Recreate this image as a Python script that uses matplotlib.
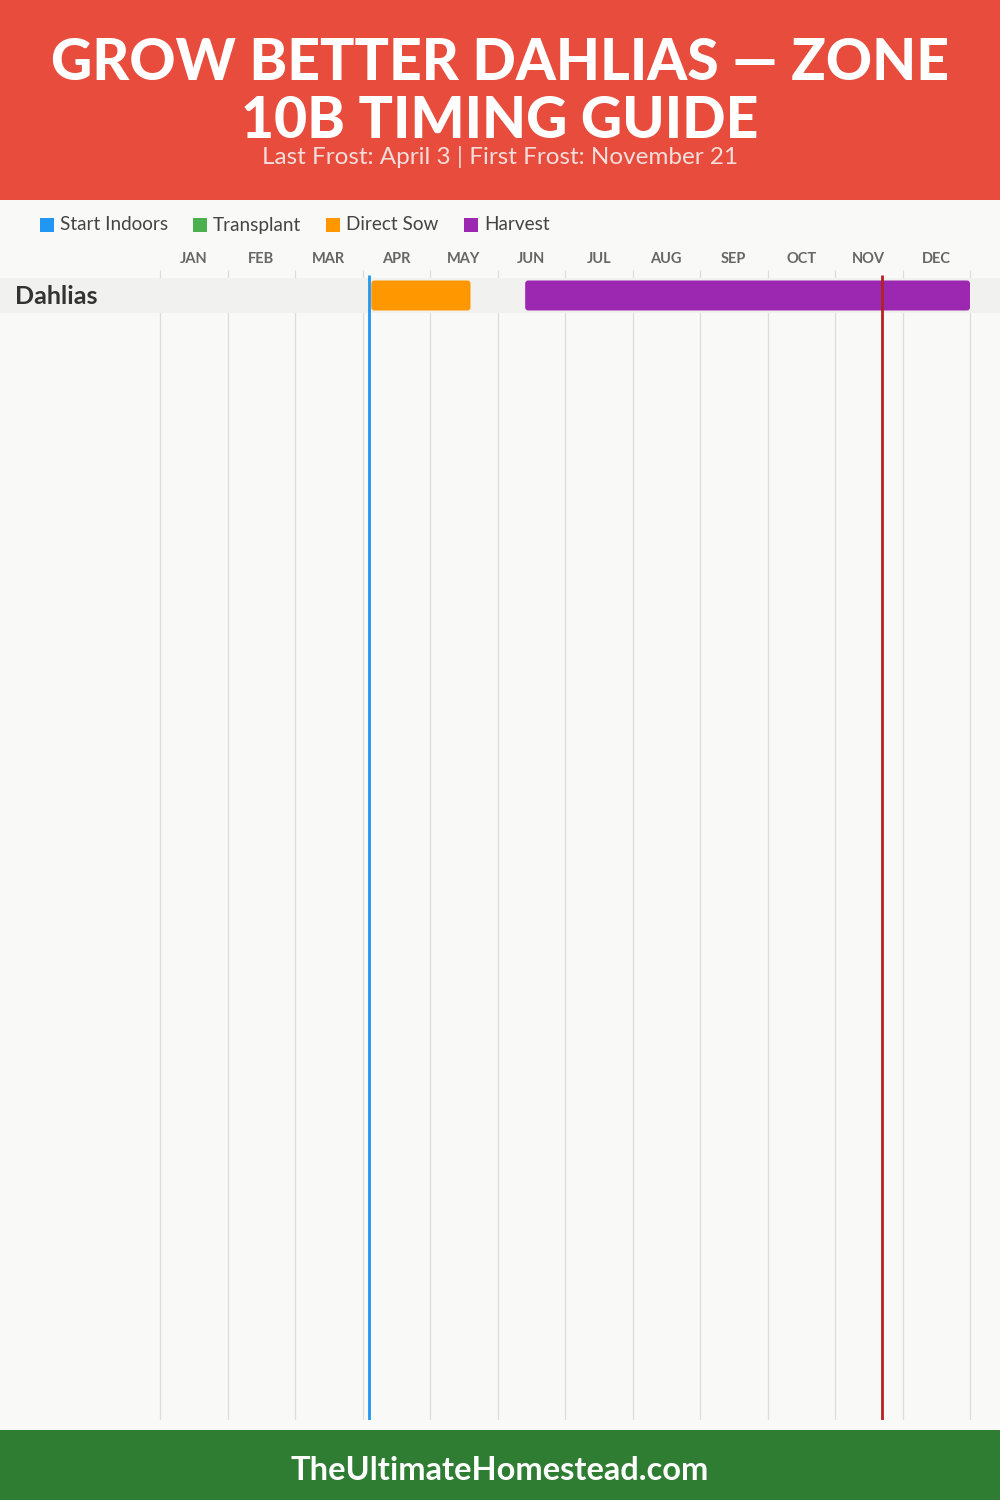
import matplotlib
matplotlib.use("Agg")
import matplotlib.pyplot as plt
from matplotlib.patches import Rectangle, FancyBboxPatch

# ---------------- data ----------------
months = ['JAN', 'FEB', 'MAR', 'APR', 'MAY', 'JUN', 'JUL', 'AUG', 'SEP', 'OCT', 'NOV', 'DEC']
crops = ['Dahlias']
legend_labels = ['Start Indoors', 'Transplant', 'Direct Sow', 'Harvest']
legend_colors = ['#2196F3', '#4CAF50', '#FF9800', '#9C27B0']
# periods in month units (0 = Jan 1, 12 = Dec 31)
direct_sow_start = [3.13]
direct_sow_end = [4.60]
harvest_start = [5.41]
harvest_end = [12.0]
last_frost = 3.10      # April 3
first_frost = 10.70    # November 21

title_lines = ['GROW BETTER DAHLIAS — ZONE', '10B TIMING GUIDE']
subtitle = 'Last Frost: April 3 | First Frost: November 21'
footer = 'TheUltimateHomestead.com'

# ---------------- style ----------------
BG = '#F9F9F7'
RED = '#E74C3C'
GREEN = '#2E7D32'
FONT = ['Lato', 'DejaVu Sans']

W, H = 1000, 1500
fig = plt.figure(figsize=(W / 100, H / 100), dpi=100, facecolor=BG)

# header / footer bands
fig.patches.append(Rectangle((0, 1 - 200 / H), 1, 200 / H, transform=fig.transFigure,
                             facecolor=RED, edgecolor='none', zorder=0))
fig.patches.append(Rectangle((0, 0), 1, 70 / H, transform=fig.transFigure,
                             facecolor=GREEN, edgecolor='none', zorder=0))

for ln, yc in zip(title_lines, [64, 122]):
    fig.text(0.5, 1 - yc / H, ln, ha='center', va='center', color='white',
             fontsize=41, fontweight='black', family=FONT)
fig.text(0.5, 1 - 157 / H, subtitle, ha='center', va='center', color='#F3DEDC',
         fontsize=17.5, family=FONT)
fig.text(0.5, 1 - 1471 / H, footer, ha='center', va='center', color='white',
         fontsize=23.5, fontweight='bold', family=FONT)

# chart axes: full width, pixel-like y from 270 to 1420
ax = fig.add_axes([0, 80 / H, 1, 1150 / H])
ax.set_facecolor('none')
month_px = 67.5
x0 = -160 / month_px
x1 = (W - 160) / month_px
ax.set_xlim(x0, x1)
ax.set_ylim(1150, 0)
ax.axis('off')

# grid lines
for i in range(len(months) + 1):
    ax.plot([i, i], [0, 1150], color='#DDDDDD', lw=0.9, zorder=1, solid_capstyle='butt')

# month labels
for i, m in enumerate(months):
    ax.text(i + 0.5, -11, m, ha='center', va='center', fontsize=10.5, fontweight='bold',
            color='#666666', family=FONT, clip_on=False)

# rows
row_h = 35
bar_h = 30
for r, crop in enumerate(crops):
    top = 8 + r * row_h
    ax.add_patch(Rectangle((x0, top), x1 - x0, row_h, facecolor='#F1F1F0',
                           edgecolor='none', zorder=2))
    ax.text(x0 + 15 / month_px, top + row_h / 2 + 1, crop, ha='left', va='center',
            fontsize=18, fontweight='bold', color='#333333', family=FONT, zorder=5)
    by = top + (row_h - bar_h) / 2
    for s, e, c in [(direct_sow_start[r], direct_sow_end[r], legend_colors[2]),
                    (harvest_start[r], harvest_end[r], legend_colors[3])]:
        ax.add_patch(FancyBboxPatch((s, by), e - s, bar_h,
                                    boxstyle='round,pad=0,rounding_size=0.045',
                                    mutation_aspect=month_px,
                                    facecolor=c, edgecolor='none', zorder=3))

# frost lines
ax.plot([last_frost, last_frost], [5, 1150], color='#2196F3', lw=2, zorder=4,
        solid_capstyle='butt')
ax.plot([first_frost, first_frost], [5, 1150], color='#B22222', lw=2, zorder=4,
        solid_capstyle='butt')

# legend
lx = 40
for lab, col in zip(legend_labels, legend_colors):
    fig.patches.append(Rectangle((lx / W, 1 - 232 / H), 14 / W, 14 / H,
                                 transform=fig.transFigure, facecolor=col,
                                 edgecolor='none'))
    t = fig.text((lx + 20) / W, 1 - 225 / H, lab, ha='left', va='center',
                 fontsize=13.6, color='#444444', family=FONT)
    fig.canvas.draw()
    bb = t.get_window_extent()
    lx = bb.x1 + 25

fig.savefig('out.png', dpi=100, facecolor=BG)
